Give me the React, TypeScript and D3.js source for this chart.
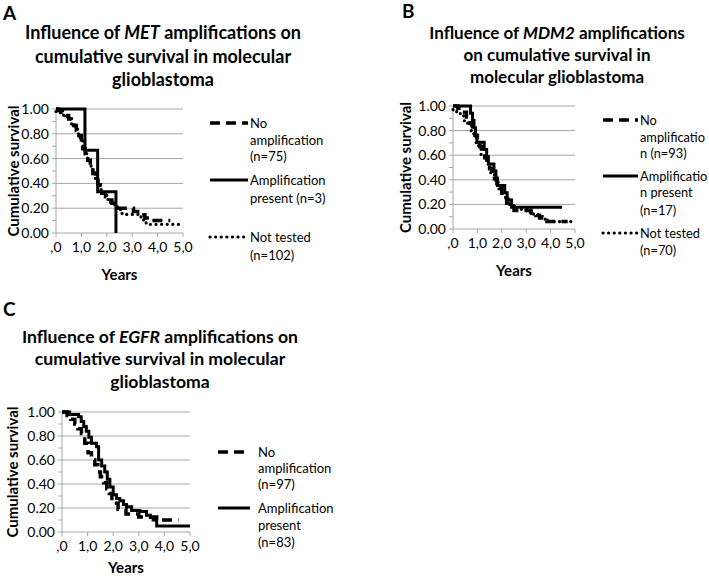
import React from "react";
import * as d3 from "d3";

// ---------- DATA ----------
const yTicks = [0, 0.2, 0.4, 0.6, 0.8, 1.0];
const yMinorTicks = [0, 0.1, 0.2, 0.3, 0.4, 0.5, 0.6, 0.7, 0.8, 0.9, 1.0];
const xTicks = [0, 1, 2, 3, 4, 5];
const xTickLabels = [",0", "1,0", "2,0", "3,0", "4,0", "5,0"];

// Panel A: MET
const metNoAmpT = [0, 0.1, 0.25, 0.4, 0.5, 0.6, 0.7, 0.8, 0.9, 1.0, 1.05, 1.15, 1.25, 1.35, 1.45, 1.55, 1.65, 1.72, 1.8, 1.95, 2.05, 2.2, 2.3, 2.45, 3.05, 3.3, 3.5, 3.75, 4.5];
const metNoAmpS = [1.0, 0.987, 0.973, 0.947, 0.92, 0.893, 0.867, 0.827, 0.787, 0.733, 0.68, 0.64, 0.587, 0.533, 0.48, 0.427, 0.387, 0.347, 0.32, 0.293, 0.267, 0.24, 0.213, 0.2, 0.173, 0.147, 0.12, 0.1, 0.1];
const metAmpT = [0, 1.14, 1.64, 2.36, 2.36];
const metAmpS = [1.0, 0.667, 0.333, 0.0, 0.0];
const metNotT = [0, 0.15, 0.3, 0.45, 0.6, 0.75, 0.85, 0.95, 1.05, 1.15, 1.25, 1.35, 1.45, 1.55, 1.65, 1.75, 1.85, 2.0, 2.15, 2.3, 2.45, 2.6, 3.3, 3.45, 3.55, 4.9];
const metNotS = [0.98, 0.97, 0.95, 0.92, 0.88, 0.84, 0.8, 0.75, 0.7, 0.64, 0.59, 0.54, 0.49, 0.44, 0.39, 0.35, 0.31, 0.27, 0.24, 0.21, 0.19, 0.15, 0.13, 0.1, 0.07, 0.07];

// Panel B: MDM2
const mdmNoAmpT = [0, 0.2, 0.4, 0.55, 0.7, 0.8, 0.9, 1.0, 1.1, 1.2, 1.3, 1.4, 1.5, 1.6, 1.7, 1.8, 1.9, 2.0, 2.1, 2.2, 2.35, 2.5, 3.2, 3.4, 3.55, 3.7, 3.85, 4.7];
const mdmNoAmpS = [1.0, 0.98, 0.95, 0.91, 0.86, 0.81, 0.76, 0.71, 0.67, 0.62, 0.58, 0.53, 0.49, 0.45, 0.41, 0.37, 0.33, 0.29, 0.25, 0.21, 0.18, 0.15, 0.13, 0.11, 0.09, 0.07, 0.06, 0.06];
const mdmAmpT = [0, 0.72, 0.8, 0.86, 0.92, 0.98, 1.28, 1.38, 1.45, 1.68, 1.76, 1.82, 2.12, 2.22, 2.4, 4.47];
const mdmAmpS = [1.0, 0.941, 0.882, 0.824, 0.765, 0.706, 0.647, 0.588, 0.529, 0.471, 0.412, 0.353, 0.294, 0.235, 0.176, 0.176];
const mdmNotT = [0, 0.15, 0.3, 0.45, 0.6, 0.75, 0.85, 0.95, 1.05, 1.15, 1.3, 1.45, 1.55, 1.7, 1.85, 2.0, 2.15, 2.3, 2.5, 3.1, 3.3, 3.5, 3.65, 3.8, 5.0];
const mdmNotS = [0.97, 0.95, 0.92, 0.88, 0.85, 0.8, 0.75, 0.7, 0.65, 0.6, 0.56, 0.5, 0.45, 0.4, 0.35, 0.3, 0.25, 0.2, 0.16, 0.14, 0.12, 0.1, 0.08, 0.06, 0.06];

// Panel C: EGFR
const egfrNoAmpT = [0, 0.2, 0.35, 0.5, 0.62, 0.76, 0.89, 1.02, 1.15, 1.28, 1.4, 1.5, 1.63, 1.75, 1.85, 1.95, 2.06, 2.19, 2.5, 3.0, 3.7, 4.55];
const egfrNoAmpS = [1.0, 0.97, 0.94, 0.9, 0.86, 0.82, 0.74, 0.66, 0.6, 0.56, 0.5, 0.46, 0.41, 0.36, 0.32, 0.28, 0.24, 0.19, 0.15, 0.125, 0.1, 0.1];
const egfrAmpT = [0, 0.3, 0.65, 0.75, 0.85, 0.95, 1.05, 1.15, 1.35, 1.43, 1.55, 1.67, 1.77, 1.87, 2.0, 2.13, 2.26, 2.4, 2.52, 2.72, 3.04, 3.3, 3.45, 3.56, 3.7, 5.0];
const egfrAmpS = [1.0, 0.98, 0.96, 0.92, 0.88, 0.84, 0.79, 0.74, 0.71, 0.6, 0.55, 0.5, 0.44, 0.375, 0.31, 0.28, 0.26, 0.23, 0.21, 0.18, 0.17, 0.14, 0.12, 0.1, 0.05, 0.05];

// ---------- STYLE ----------
const FONT = "Lato, 'Open Sans', sans-serif";
const GRID = "#a6a6a6";

const styles: Record<string, { dash?: string; width: number; cap: "butt" | "round" }> = {
  dashed: { dash: "10,6", width: 3.5, cap: "butt" },
  solid: { width: 3, cap: "butt" },
  dotted: { dash: "0.1,5.5", width: 3.2, cap: "round" },
};

type Series = { t: number[]; s: number[]; style: string };
type LegendItem = { style: string; lines: string[]; y: number[] };

type PanelProps = {
  letter: string;
  letterX: number;
  letterY: number;
  titleLines: React.ReactNode[];
  titleX: number;
  titleY: number[];
  titleSize: number;
  x0: number;
  x1: number;
  yTop: number;
  yBot: number;
  yTitleX: number;
  yearsY: number;
  series: Series[];
  legend: LegendItem[];
  legX0: number;
  legX1: number;
  legTextX: number;
  legSize: number;
};

function Panel(p: PanelProps) {
  const x = d3.scaleLinear().domain([0, 5]).range([p.x0, p.x1]);
  const y = d3.scaleLinear().domain([0, 1]).range([p.yBot, p.yTop]);
  const line = d3
    .line<[number, number]>()
    .x((d) => x(d[0]))
    .y((d) => y(d[1]))
    .curve(d3.curveStepAfter);
  return (
    <g>
      <text x={p.letterX} y={p.letterY} fontFamily={FONT} fontWeight={700} fontSize={19} fill="#000">
        {p.letter}
      </text>
      {p.titleLines.map((tl, i) => (
        <text key={i} x={p.titleX} y={p.titleY[i]} textAnchor="middle" fontFamily={FONT} fontWeight={700} fontSize={p.titleSize} fill="#000">
          {tl}
        </text>
      ))}
      {yTicks.map((v) => (
        <line key={"g" + v} x1={x(0)} x2={x(5)} y1={y(v)} y2={y(v)} stroke={GRID} strokeWidth={1} />
      ))}
      {yMinorTicks.map((v) => (
        <line key={"m" + v} x1={x(0) - 4} x2={x(0)} y1={y(v)} y2={y(v)} stroke={GRID} strokeWidth={1} />
      ))}
      <line x1={x(0)} x2={x(0)} y1={y(0)} y2={y(1)} stroke={GRID} strokeWidth={1} />
      {xTicks.map((v) => (
        <line key={"xt" + v} x1={x(v)} x2={x(v)} y1={y(0)} y2={y(0) + 4} stroke={GRID} strokeWidth={1} />
      ))}
      {yTicks.map((v) => (
        <text key={"yl" + v} x={x(0) - 7} y={y(v) + 5} textAnchor="end" fontFamily={FONT} fontSize={14} fill="#000">
          {v.toFixed(2)}
        </text>
      ))}
      {xTicks.map((v, i) => (
        <text key={"xl" + v} x={x(v)} y={y(0) + 19} textAnchor="middle" fontFamily={FONT} fontSize={14} fill="#000">
          {xTickLabels[i]}
        </text>
      ))}
      <text x={(p.x0 + p.x1) / 2} y={p.yearsY} textAnchor="middle" fontFamily={FONT} fontWeight={700} fontSize={15} fill="#000">
        Years
      </text>
      <text
        transform={`translate(${p.yTitleX},${(p.yTop + p.yBot) / 2}) rotate(-90)`}
        textAnchor="middle"
        dominantBaseline="central"
        fontFamily={FONT}
        fontWeight={700}
        fontSize={15}
        fill="#000"
      >
        Cumulative survival
      </text>
      {p.series.map((s, i) => {
        const st = styles[s.style];
        const pts: [number, number][] = s.t.map((t, j) => [t, s.s[j]]);
        return (
          <path
            key={"s" + i}
            d={line(pts) || ""}
            fill="none"
            stroke="#000"
            strokeWidth={st.width}
            strokeDasharray={st.dash}
            strokeLinecap={st.cap}
          />
        );
      })}
      {p.legend.map((L, i) => {
        const st = styles[L.style];
        return (
          <g key={"l" + i}>
            <line
              x1={p.legX0}
              x2={p.legX1}
              y1={L.y[0]}
              y2={L.y[0]}
              stroke="#000"
              strokeWidth={st.width}
              strokeDasharray={st.dash}
              strokeLinecap={st.cap}
            />
            {L.lines.map((tx, j) => (
              <text key={j} x={p.legTextX} y={L.y[j] + 4.5} fontFamily={FONT} fontSize={p.legSize} fill="#000">
                {tx}
              </text>
            ))}
          </g>
        );
      })}
    </g>
  );
}

export default function App() {
  return (
    <svg width={709} height={576} style={{ position: "absolute", left: 0, top: 0, background: "#fff" }}>
      <rect width={709} height={576} fill="#fff" />
      <Panel
        letter="A"
        letterX={3}
        letterY={20}
        titleLines={[
          <>
            Influence of <tspan fontStyle="italic">MET</tspan> amplifications on
          </>,
          "cumulative survival in molecular",
          "glioblastoma",
        ]}
        titleX={163}
        titleY={[39, 63, 86]}
        titleSize={18}
        x0={56}
        x1={183}
        yTop={109}
        yBot={233}
        yTitleX={13}
        yearsY={280}
        series={[
          { t: metNoAmpT, s: metNoAmpS, style: "dashed" },
          { t: metNotT, s: metNotS, style: "dotted" },
          { t: metAmpT, s: metAmpS, style: "solid" },
        ]}
        legend={[
          { style: "dashed", lines: ["No", "amplification", "(n=75)"], y: [123, 140, 156] },
          { style: "solid", lines: ["Amplification", "present (n=3)"], y: [180, 198] },
          { style: "dotted", lines: ["Not tested", "(n=102)"], y: [237, 255] },
        ]}
        legX0={210}
        legX1={248}
        legTextX={250}
        legSize={13}
      />
      <Panel
        letter="B"
        letterX={402}
        letterY={18}
        titleLines={[
          <>
            Influence of <tspan fontStyle="italic">MDM2</tspan> amplifications
          </>,
          "on cumulative survival in",
          "molecular glioblastoma",
        ]}
        titleX={557}
        titleY={[39, 61, 83]}
        titleSize={17}
        x0={453}
        x1={575}
        yTop={106}
        yBot={229}
        yTitleX={405}
        yearsY={276}
        series={[
          { t: mdmNoAmpT, s: mdmNoAmpS, style: "dashed" },
          { t: mdmNotT, s: mdmNotS, style: "dotted" },
          { t: mdmAmpT, s: mdmAmpS, style: "solid" },
        ]}
        legend={[
          { style: "dashed", lines: ["No", "amplificatio", "n (n=93)"], y: [120, 137, 153] },
          { style: "solid", lines: ["Amplificatio", "n present", "(n=17)"], y: [176, 192, 210] },
          { style: "dotted", lines: ["Not tested", "(n=70)"], y: [233, 250] },
        ]}
        legX0={603}
        legX1={638}
        legTextX={640}
        legSize={12.8}
      />
      <Panel
        letter="C"
        letterX={3}
        letterY={316}
        titleLines={[
          <>
            Influence of <tspan fontStyle="italic">EGFR</tspan> amplifications on
          </>,
          "cumulative survival in molecular",
          "glioblastoma",
        ]}
        titleX={160}
        titleY={[343, 365, 388]}
        titleSize={17.6}
        x0={62}
        x1={190}
        yTop={412}
        yBot={532}
        yTitleX={12}
        yearsY={573}
        series={[
          { t: egfrNoAmpT, s: egfrNoAmpS, style: "dashed" },
          { t: egfrAmpT, s: egfrAmpS, style: "solid" },
        ]}
        legend={[
          { style: "dashed", lines: ["No", "amplification", "(n=97)"], y: [452, 468, 484] },
          { style: "solid", lines: ["Amplification", "present", "(n=83)"], y: [508, 525, 542] },
        ]}
        legX0={218}
        legX1={250}
        legTextX={258}
        legSize={13}
      />
    </svg>
  );
}
